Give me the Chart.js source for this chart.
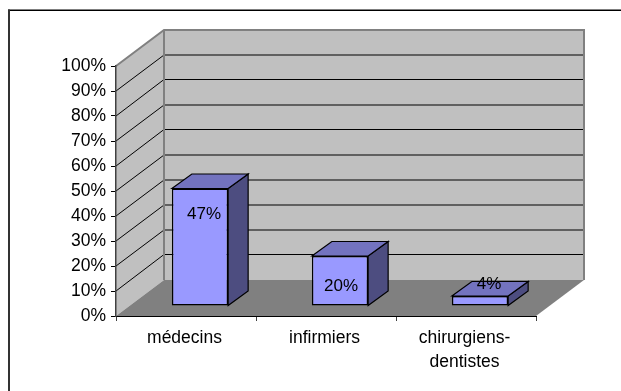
<!DOCTYPE html>
<html>
<head>
<meta charset="utf-8">
<title>Répartition</title>
<style>
  html, body { margin: 0; padding: 0; background: #fff; }
  #wrap { position: relative; width: 621px; height: 391px; }
</style>
<script src="https://cdn.jsdelivr.net/npm/chart.js@4/dist/chart.umd.min.js"></script>
</head>
<body>
<div id="wrap"><canvas id="chart" width="621" height="391"></canvas></div>
<script>
const categories = ['médecins', 'infirmiers', ['chirurgiens-', 'dentistes']];
const shares = [47, 20, 4];
const yTicks = [0, 10, 20, 30, 40, 50, 60, 70, 80, 90, 100];

// Oblique projection of the box: how far the back wall sits from the front plane
const WALL_DX = 48;
const WALL_DY = -36;
// bars stand partway into the box and have their own depth
const BAR_SHIFT_X = 14;
const BAR_SHIFT_Y = -10;
const BAR_DX = 20;
const BAR_DY = -14.5;

// gridlines that land on a pixel row and stay thin and black
const sharpLines = [10, 60, 80];
// where each value label sits, relative to the middle of its bar's top edge
const labelNudge = [[4, 25.5], [1, 30.5], [9, -11.5]];

const FONT = '"Liberation Sans", Arial, sans-serif';

function polygon(ctx, pts, fill, stroke, width) {
  ctx.beginPath();
  pts.forEach((p, i) => (i ? ctx.lineTo(p[0], p[1]) : ctx.moveTo(p[0], p[1])));
  ctx.closePath();
  if (fill) {
    ctx.fillStyle = fill;
    ctx.fill();
  }
  if (stroke) {
    ctx.strokeStyle = stroke;
    ctx.lineWidth = width;
    ctx.stroke();
  }
}

// Page frame (only top and left are drawn), then walls and floor behind the axes
const box3d = {
  id: 'box3d',
  beforeDraw(chart) {
    const { ctx, chartArea: a, scales } = chart;
    const dx = WALL_DX, dy = WALL_DY;
    ctx.save();

    ctx.fillStyle = '#000';
    ctx.fillRect(8, 9.5, 613, 1.5);
    ctx.fillStyle = '#333';
    ctx.fillRect(8, 9.5, 2, 381.5);

    polygon(ctx, [[a.left, a.top], [a.left + dx, a.top + dy], [a.left + dx, a.bottom + dy], [a.left, a.bottom]], '#c0c0c0');
    polygon(ctx, [[a.left + dx, a.top + dy], [a.right + dx, a.top + dy], [a.right + dx, a.bottom + dy], [a.left + dx, a.bottom + dy]], '#c0c0c0');
    polygon(ctx, [[a.left, a.bottom], [a.right, a.bottom], [a.right + dx, a.bottom + dy], [a.left + dx, a.bottom + dy]], '#808080');

    // gridlines run up the side wall and across the back wall
    ctx.strokeStyle = '#000';
    ctx.lineWidth = 1;
    yTicks.slice(1, -1).forEach(v => {
      const y = scales.y.getPixelForValue(v);
      const backY = y + dy - (sharpLines.includes(v) ? 0.5 : 0);
      ctx.beginPath();
      ctx.moveTo(a.left, y);
      ctx.lineTo(a.left + dx, backY);
      ctx.lineTo(a.right + dx, backY);
      ctx.stroke();
    });

    // wall outlines
    ctx.strokeStyle = '#808080';
    ctx.lineWidth = 2;
    ctx.beginPath();
    ctx.moveTo(a.left, a.top);
    ctx.lineTo(a.left + dx, a.top + dy);
    ctx.lineTo(a.right + dx, a.top + dy);
    ctx.lineTo(a.right + dx, a.bottom + dy);
    ctx.moveTo(a.left + dx, a.top + dy);
    ctx.lineTo(a.left + dx, a.bottom + dy);
    ctx.stroke();
    ctx.restore();
  },
  beforeDatasetDraw(chart, args) {
    const { ctx } = chart;
    ctx.save();
    ctx.translate(BAR_SHIFT_X, BAR_SHIFT_Y);
    args.meta.data.forEach(bar => {
      const l = bar.x - bar.width / 2, r = bar.x + bar.width / 2;
      const t = bar.y, b = bar.base;
      polygon(ctx, [[r, t], [r + BAR_DX, t + BAR_DY], [r + BAR_DX, b + BAR_DY], [r, b]], '#4d4d80', '#000', 1.2);
      polygon(ctx, [[l, t], [l + BAR_DX, t + BAR_DY], [r + BAR_DX, t + BAR_DY], [r, t]], '#7373bf', '#000', 1.2);
    });
  },
  afterDatasetDraw(chart, args) {
    const { ctx } = chart;
    ctx.restore();
    ctx.save();
    ctx.fillStyle = '#000';
    ctx.font = '17px ' + FONT;
    ctx.textAlign = 'center';
    ctx.textBaseline = 'middle';
    args.meta.data.forEach((bar, i) => {
      const x = bar.x + BAR_SHIFT_X + labelNudge[i][0];
      const y = bar.y + BAR_SHIFT_Y + labelNudge[i][1];
      ctx.fillText(shares[i] + '%', x, y);
    });
    ctx.restore();
  }
};

new Chart(document.getElementById('chart'), {
  type: 'bar',
  plugins: [box3d],
  data: {
    labels: categories,
    datasets: [{
      data: shares,
      backgroundColor: '#9999ff',
      borderColor: '#000',
      borderWidth: 1.5,
      borderSkipped: false,
      barPercentage: 0.402,
      categoryPercentage: 1,
      clip: false
    }]
  },
  options: {
    responsive: false,
    animation: false,
    events: [],
    layout: { padding: { top: 66, right: 85, left: 0, bottom: 0 } },
    plugins: {
      legend: { display: false },
      tooltip: { enabled: false },
      title: { display: false }
    },
    scales: {
      x: {
        afterFit(scale) { scale.height = 75; },
        grid: { drawOnChartArea: false, tickLength: 5, tickColor: '#404040' },
        border: { color: '#000' },
        ticks: {
          color: '#000',
          maxRotation: 0,
          autoSkip: false,
          padding: 5,
          labelOffset: -1.5,
          font: { family: FONT, size: 17.5, lineHeight: 1.38 }
        }
      },
      y: {
        min: 0,
        max: 100,
        afterFit(scale) { scale.width = 116; },
        afterBuildTicks(scale) { scale.ticks = yTicks.map(value => ({ value })); },
        grid: { drawOnChartArea: false, tickLength: 5, tickColor: '#000' },
        border: { color: '#404040', width: 1.5 },
        ticks: {
          color: '#000',
          padding: 5,
          callback: v => v + '%',
          font: { family: FONT, size: 17.5 }
        }
      }
    }
  }
});
</script>
</body>
</html>
